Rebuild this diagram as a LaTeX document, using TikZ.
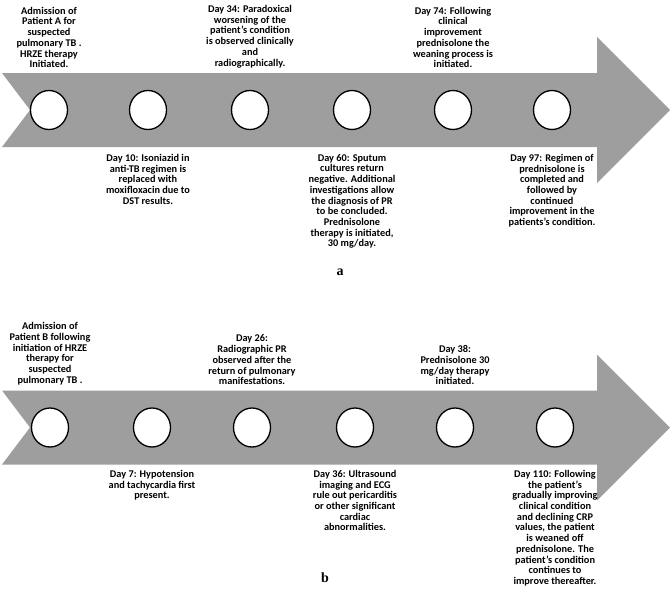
\documentclass[tikz,border=0pt]{standalone}
\usepackage{fontspec}
\setmainfont{Carlito}[BoldFont={Carlito Bold}]
\newfontfamily\panelfont{Liberation Serif}[BoldFont={Liberation Serif Bold}]
\usetikzlibrary{shapes.geometric}
\definecolor{bandgray}{HTML}{9E9E9E}
\tikzset{
  band/.style={fill=bandgray, draw=none},
  milestone/.style={
    ellipse, draw=black, line width=1.3pt, fill=white,
    minimum width=37pt, minimum height=39pt, inner sep=0pt
  },
  evtext/.style={
    font=\bfseries\fontsize{10.3}{10.7}\selectfont,
    align=center, inner sep=1pt
  },
  panellabel/.style={font=\panelfont\bfseries\fontsize{14}{14}\selectfont},
}

\begin{document}
\begin{tikzpicture}[x=1pt, y=-1pt]
  \useasboundingbox (0,0) rectangle (672,595);
  % timeline bands (notched tail, wide head)
  \foreach \yc in {110,427.5} {
    \fill[band] (2,\yc-37) -- (597,\yc-37) -- (597,\yc-73) -- (670,\yc)
      -- (597,\yc+73) -- (597,\yc+37) -- (2,\yc+37) -- (30,\yc) -- cycle;
  }
  \coordinate (atop) at (0,69);
  \coordinate (abot) at (0,153);
  \coordinate (btop) at (0,386);
  \coordinate (bbot) at (0,469);
  % milestones
  \foreach \x [count=\i] in {49,148,250,352,453,552} { \node[milestone] (ca\i) at (\x,110) {}; }
  \foreach \x [count=\i] in {50,152,252,355,455,555} { \node[milestone] (cb\i) at (\x,427.5) {}; }

  % panel a
  \node[evtext, anchor=south] (ta1) at (ca1 |- atop) {Admission of\\Patient A for\\suspected\\pulmonary TB .\\HRZE therapy\\Initiated.};
  \node[evtext, anchor=south] (ta3) at (ca3 |- atop) {Day 34: Paradoxical\\worsening of the\\patient's condition\\is observed clinically\\and\\radiographically.};
  \node[evtext, anchor=south] (ta5) at (ca5 |- atop) {Day 74: Following\\clinical\\improvement\\prednisolone the\\weaning process is\\initiated.};
  \node[evtext, anchor=north] (ta2) at (ca2 |- abot) {Day 10: Isoniazid in\\anti-TB regimen is\\replaced with\\moxifloxacin due to\\DST results.};
  \node[evtext, anchor=north] (ta4) at (ca4 |- abot) {Day 60: Sputum\\cultures return\\negative. Additional\\investigations allow\\the diagnosis of PR\\to be concluded.\\Prednisolone\\therapy is initiated,\\30 mg/day.};
  \node[evtext, anchor=north] (ta6) at (ca6 |- abot) {Day 97: Regimen of\\prednisolone is\\completed and\\followed by\\continued\\improvement in the\\patients's condition.};
  \node[panellabel] (la) at (340,272) {a};

  % panel b
  \node[evtext, anchor=south] (tb1) at (cb1 |- btop) {Admission of\\Patient B following\\initiation of HRZE\\therapy for\\suspected\\pulmonary TB .};
  \node[evtext, anchor=south] (tb3) at (cb3 |- btop) {Day 26:\\Radiographic PR\\observed after the\\return of pulmonary\\manifestations.};
  \node[evtext, anchor=south] (tb5) at (cb5 |- btop) {Day 38:\\Prednisolone 30\\mg/day therapy\\initiated.};
  \node[evtext, anchor=north] (tb2) at (cb2 |- bbot) {Day 7: Hypotension\\and tachycardia first\\present.};
  \node[evtext, anchor=north] (tb4) at (cb4 |- bbot) {Day 36: Ultrasound\\imaging and ECG\\rule out pericarditis\\or other significant\\cardiac\\abnormalities.};
  \node[evtext, anchor=north] (tb6) at (cb6 |- bbot) {Day 110: Following\\the patient's\\gradually improving\\clinical condition\\and declining CRP\\values, the patient\\is weaned off\\prednisolone. The\\patient's condition\\continues to\\improve thereafter.};
  \node[panellabel] (lb) at (325,578) {b};
\end{tikzpicture}
\end{document}
